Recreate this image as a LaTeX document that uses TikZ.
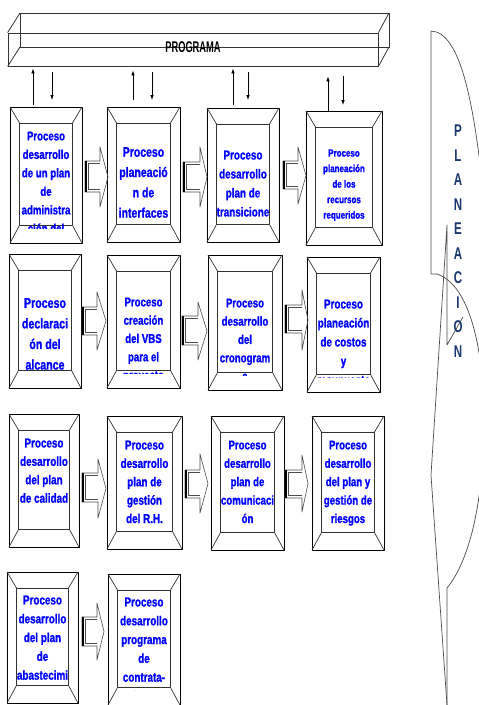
\documentclass[tikz,border=0pt]{standalone}
\usepackage{fontspec}
\setmainfont{Liberation Sans}
\newfontfamily\narrowfont[FakeStretch=0.76, BoldFeatures={FakeBold=1.2}]{Liberation Sans}
\newfontfamily\slimfont[FakeStretch=0.6]{Liberation Sans}
\newfontfamily\letrafont[FakeStretch=0.68]{Liberation Sans}
\usetikzlibrary{arrows.meta}
\definecolor{textoazul}{RGB}{0,0,255}
\definecolor{azulplan}{RGB}{25,55,110}
\tikzset{
  marco/.style={draw=black, line width=1pt, inner sep=0pt, outer sep=0pt},
  bisel/.style={draw=black!80, line width=0.7pt},
  textoproc/.style={text=textoazul, align=center, inner sep=0pt, anchor=north},
  flechita/.style={-{Latex[length=5pt,width=3.6pt]}, line width=0.8pt},
  flechabloque/.style={draw=black!70, line width=0.6pt},
  contorno/.style={draw=black!70, line width=0.7pt},
  letraplan/.style={text=azulplan, inner sep=0pt, font=\letrafont\bfseries\fontsize{17}{17}\selectfont}
}

\begin{document}
\begin{tikzpicture}[x=1pt, y=-1pt, line join=round]
\useasboundingbox (0,0) rectangle (479,705);
% 1. Barra del programa (caja transparente)
\node[draw=black!80, line width=0.8pt, minimum width=370pt, minimum height=33pt, inner sep=0pt] (prog) at (193,49.5) {};
\draw[black!80, line width=0.8pt] (20,13) rectangle (389,47);
\draw[black!80, line width=0.8pt] (prog.north west) -- (20,13) (prog.north east) -- (389,13)
  (prog.south west) -- (20,47) (prog.south east) -- (389,47);
\node[font=\slimfont\bfseries\fontsize{15.5}{15.5}\selectfont] (progtxt) at (193,47) {PROGRAMA};

% 2. Cajas de los procesos
\foreach \n/\xa/\ya/\xb/\yb/\ty/\fs/\ls/\txt in {
  11/10/107/82/243/136/12.7/18.5/{Proceso\\desarrollo\\de un plan\\de\\administra\\ción del},
  12/107/107/180/242/152/13.8/20.3/{Proceso\\planeació\\n de\\interfaces},
  13/207/108/279/242/155/13/19/{Proceso\\desarrollo\\plan de\\transicione},
  14/306/111/382/245/153/10.5/15.5/{Proceso\\planeación\\de los\\recursos\\requeridos},
  21/9/254/81/388/303/14/20.6/{Proceso\\declaraci\\ón del\\alcance},
  22/107/255/180/388/302/12.7/18.3/{Proceso\\creación\\del VBS\\para el\\proyecto},
  23/208/255/282/390/303/12.7/18.3/{Proceso\\desarrollo\\del\\cronogram\\a},
  24/307/257/380/392/304/13/19/{Proceso\\planeación\\de costos\\y\\presupuestos},
  31/9/414/79/547/443/13/18.4/{Proceso\\desarrollo\\del plan\\de calidad},
  32/107/416/182/549/445/13/18.4/{Proceso\\desarrollo\\plan de\\gestión\\del R.H.},
  33/211/416/284/550/445/12.7/18.4/{Proceso\\desarrollo\\plan de\\comunicaci\\ón},
  34/312/416/384/550/445/12.7/18.4/{Proceso\\desarrollo\\del plan y\\gestión de\\riesgos},
  41/7/572/78/703/600/13/18.8/{Proceso\\desarrollo\\del plan\\de\\abastecimi\\ento},
  42/108/574/180/705/602/13/18.8/{Proceso\\desarrollo\\programa\\de\\contrata-\\ciones}}
{
  \node[marco, minimum width={(\xb-\xa)*1pt}, minimum height={(\yb-\ya)*1pt}] (b\n) at ({(\xa+\xb)/2},{(\ya+\yb)/2}) {};
  \draw[bisel] ([shift={(9.5,16)}]b\n.north west) rectangle ([shift={(-9.5,-17.5)}]b\n.south east);
  \draw[bisel] (b\n.north west) -- ++(9.5,16) (b\n.north east) -- ++(-9.5,16)
    (b\n.south west) -- ++(9.5,-17.5) (b\n.south east) -- ++(-9.5,-17.5);
  \begin{scope}
    \clip ([shift={(9.5,16)}]b\n.north west) rectangle ([shift={(-9.5,-15)}]b\n.south east);
    \node[textoproc, font=\narrowfont\bfseries\fontsize{\fs}{\ls}\selectfont] (t\n) at ({(\xa+\xb)/2},{\ty-0.36*\fs}) {\txt};
  \end{scope}
}

% 3. Flechas entre las cajas y el programa
\foreach \n/\du/\dd/\ua/\ub/\da/\db in {11/-13/6/2/2/6/7, 12/-10.5/8.5/7/4/6/7, 13/-10/5/3/2/6/8, 14/-16/-1/0/10/10/6}
{
  \draw[flechita, shorten <=\ua pt, shorten >=\ub pt] ([xshift=\du pt]b\n.north) -- ([xshift=\du pt]b\n.north |- prog.south);
  \draw[flechita, shorten <=\da pt, shorten >=\db pt] ([xshift=\dd pt]b\n.north |- prog.south) -- ([xshift=\dd pt]b\n.north);
}

% 4. Flechas de bloque entre procesos
\foreach \xa/\xb/\sa/\sb/\ha/\hb/\tp in {85/100/161/192/147/207/108, 183/200/162/192/147/207/207,
  283/298/161/189/147/204/306, 82/97/307/335/292/350/106, 182/198/316/345/302/360/207,
  285/302/305/333/290/350/308, 82/98/473/502/459/518/106, 185/200/470/498/454/513/208,
  285/302/470/498/455/512/308, 82/97/617/646/603/660/104}
{
  \draw[flechabloque] (\xa,\sa) -- (\xb,\sa) -- (\xb,\ha) -- (\tp,{(\ha+\hb)/2}) -- (\xb,\hb) -- (\xb,\sb) -- (\xa,\sb) -- cycle;
  \draw[black, line width=1.5pt] (\xa+0.8,\sa) -- (\xa+0.8,\sb);
  \draw[black!70, line width=0.5pt] (\xb,\sa+2.5) -- (\xa+3,\sa+2.5) -- (\xa+3,\sb-2.5) -- (\xb,\sb-2.5);
}

% 5. Forma de la derecha (planeacion)
\begin{scope}
  \clip (0,0) rectangle (479,705);
  \draw[contorno] (437,274) -- (431,274) -- (431,31) .. controls (460,32) and (474,100) .. (484,200);
  \draw[contorno] (437,274) .. controls (470,285) and (484,350) .. (484,420)
    .. controls (484,500) and (470,560) .. (447,588) -- (447,705);
  \draw[contorno] (463,317) -- (447,345) -- (447,225) -- (431,475) -- (447,705);
\end{scope}
\foreach \letra [count=\i from 0] in {P,L,A,N,E,A,C,I,O,N}
  \node[letraplan] (pl\i) at (458,{131+24.5*\i}) {\letra};
\end{tikzpicture}
\end{document}
